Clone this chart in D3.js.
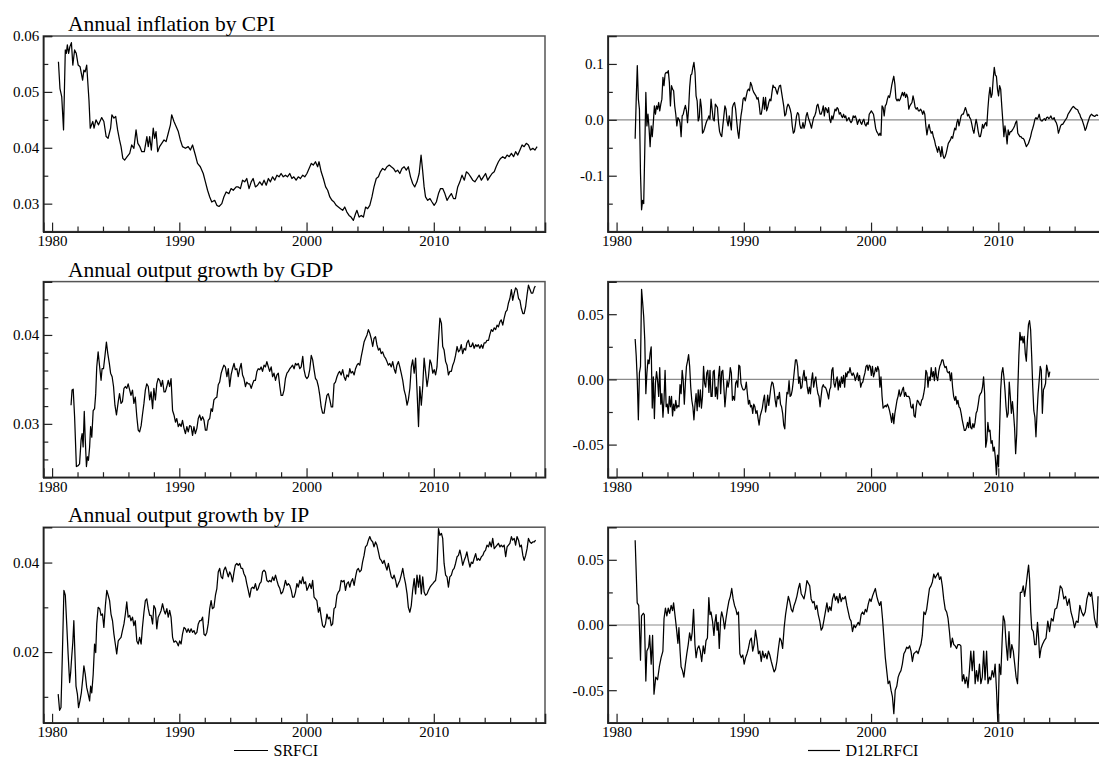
<!DOCTYPE html>
<html><head><meta charset="utf-8">
<script src="https://cdn.jsdelivr.net/npm/d3@7"></script>
<style>body{margin:0;background:#fff}svg{display:block}</style>
</head><body>
<svg id="chart" width="1099" height="760"></svg>
<script>
// ---------------- data ----------------
const titles = ["Annual inflation by CPI", "Annual output growth by GDP", "Annual output growth by IP"];
const legendLabels = ["SRFCI", "D12LRFCI"];
const xMajorYears = [1980, 1990, 2000, 2010];
const xDomain = [1979.31, 2018.74];

const cpiDomain = [0.025, 0.06], cpiMajor = [0.03, 0.04, 0.05, 0.06], cpiMinor = [0.035, 0.045, 0.055];
const gdpDomain = [0.024, 0.046], gdpMajor = [0.03, 0.04], gdpMinor = [0.026, 0.028, 0.032, 0.034, 0.036, 0.038, 0.042, 0.044];
const ipDomain = [0.0042, 0.0479], ipMajor = [0.02, 0.04], ipMinor = [0.01, 0.03];
const r1Domain = [-0.2, 0.15], r1Major = [-0.1, 0.0, 0.1], r1Minor = [-0.15, -0.05, 0.05];
const r2Domain = [-0.075, 0.075], r2Major = [-0.05, 0.0, 0.05], r2Minor = [-0.025, 0.025];
const r3Domain = [-0.075, 0.075], r3Major = [-0.05, 0.0, 0.05], r3Minor = [-0.025, 0.025];

// SRFCI, inflation by CPI  [year, value]
const cpiSrfci = [[1980.5,.0554],[1980.62,.0506],[1980.76,.0491],[1980.9,.0432],[1981.04,.0575],[1981.12,.0569],[1981.2,.0584],[1981.3,.0569],[1981.4,.0581],[1981.52,.0588],[1981.63,.0548],[1981.77,.0575],[1981.9,.0569],[1982.05,.0548],[1982.2,.0545],[1982.4,.0521],[1982.5,.0539],[1982.6,.0536],[1982.72,.0548],[1982.9,.0485],[1983.0,.0435],[1983.2,.0447],[1983.3,.0435],[1983.45,.045],[1983.65,.0441],[1983.9,.0454],[1984.07,.0447],[1984.25,.042],[1984.4,.0417],[1984.6,.0435],[1984.7,.0459],[1984.86,.0453],[1985.0,.0456],[1985.15,.0432],[1985.3,.0414],[1985.42,.0402],[1985.56,.0381],[1985.7,.0378],[1985.9,.0384],[1986.1,.039],[1986.26,.0405],[1986.43,.0399],[1986.6,.0432],[1986.74,.0408],[1986.9,.0402],[1987.05,.0393],[1987.25,.0393],[1987.45,.042],[1987.56,.0402],[1987.67,.042],[1987.8,.0396],[1987.95,.0435],[1988.06,.0417],[1988.17,.0429],[1988.3,.0393],[1988.45,.0402],[1988.62,.0408],[1988.8,.0414],[1988.96,.0411],[1989.13,.0426],[1989.3,.0441],[1989.4,.0459],[1989.58,.0447],[1989.75,.0438],[1989.92,.0429],[1990.08,.0414],[1990.25,.0402],[1990.48,.0399],[1990.7,.0402],[1990.87,.0396],[1991.04,.0405],[1991.26,.0387],[1991.43,.0372],[1991.65,.0366],[1991.88,.0354],[1992.05,.0339],[1992.22,.0324],[1992.39,.0312],[1992.55,.0303],[1992.78,.0306],[1992.95,.0297],[1993.12,.0295],[1993.34,.03],[1993.5,.0312],[1993.68,.0321],[1993.9,.0318],[1994.07,.0327],[1994.24,.0324],[1994.47,.033],[1994.63,.033],[1994.8,.0327],[1994.97,.0342],[1995.14,.0339],[1995.3,.0345],[1995.48,.0327],[1995.65,.0339],[1995.8,.0345],[1995.98,.033],[1996.15,.0333],[1996.32,.0339],[1996.5,.0333],[1996.66,.0342],[1996.83,.0333],[1997.0,.0345],[1997.16,.0339],[1997.33,.0348],[1997.5,.0342],[1997.67,.0351],[1997.84,.0348],[1998.0,.0354],[1998.17,.0348],[1998.34,.0351],[1998.5,.0348],[1998.68,.0354],[1998.85,.0345],[1999.0,.0348],[1999.18,.0342],[1999.35,.0348],[1999.52,.0345],[1999.7,.0351],[1999.86,.0348],[2000.03,.0354],[2000.2,.0363],[2000.37,.0372],[2000.53,.0369],[2000.7,.0375],[2000.87,.0366],[2000.98,.0375],[2001.15,.0357],[2001.32,.0345],[2001.5,.033],[2001.66,.0324],[2001.83,.0312],[2002.0,.0306],[2002.16,.0303],[2002.33,.0297],[2002.5,.0294],[2002.67,.0291],[2002.84,.0288],[2003.0,.0294],[2003.17,.0285],[2003.34,.0279],[2003.5,.0276],[2003.68,.027],[2003.85,.0282],[2003.96,.0288],[2004.13,.0276],[2004.3,.0279],[2004.47,.0276],[2004.64,.0294],[2004.8,.0291],[2004.97,.0297],[2005.14,.0312],[2005.3,.033],[2005.48,.0345],[2005.65,.0348],[2005.8,.0357],[2005.98,.0363],[2006.15,.036],[2006.32,.0366],[2006.5,.0369],[2006.66,.0366],[2006.83,.0363],[2007.0,.0357],[2007.16,.036],[2007.33,.0354],[2007.5,.0363],[2007.67,.0366],[2007.84,.036],[2008.0,.0366],[2008.17,.0348],[2008.34,.0336],[2008.5,.033],[2008.68,.0339],[2008.85,.0354],[2009.0,.0387],[2009.12,.036],[2009.24,.033],[2009.35,.0312],[2009.52,.0306],[2009.7,.0309],[2009.86,.0303],[2010.03,.0297],[2010.2,.0303],[2010.37,.0318],[2010.53,.0327],[2010.7,.0327],[2010.87,.0318],[2011.04,.0306],[2011.2,.0312],[2011.38,.0318],[2011.55,.0309],[2011.7,.0309],[2011.88,.033],[2012.05,.0339],[2012.22,.0351],[2012.4,.0342],[2012.56,.0357],[2012.72,.0354],[2012.9,.0348],[2013.06,.0342],[2013.23,.0339],[2013.4,.0345],[2013.57,.0351],[2013.74,.0342],[2013.9,.0348],[2014.07,.0354],[2014.24,.0342],[2014.4,.0348],[2014.58,.0354],[2014.75,.0357],[2014.9,.0366],[2015.08,.0375],[2015.25,.0381],[2015.42,.0384],[2015.6,.0381],[2015.76,.0387],[2015.93,.0384],[2016.1,.039],[2016.27,.0384],[2016.43,.0393],[2016.6,.0387],[2016.77,.0396],[2016.94,.0405],[2017.1,.0402],[2017.27,.0408],[2017.44,.0405],[2017.6,.0396],[2017.78,.0399],[2017.95,.0396],[2018.12,.0402]];

// SRFCI, output growth by GDP
const gdpSrfci = [[1981.49,.0321],[1981.57,.0338],[1981.66,.0339],[1981.77,.0308],[1981.91,.0252],[1982.05,.0253],[1982.16,.0255],[1982.28,.0282],[1982.36,.0289],[1982.44,.0274],[1982.53,.0314],[1982.6,.0285],[1982.7,.0252],[1982.78,.0263],[1982.86,.0259],[1982.95,.0274],[1983.03,.0297],[1983.12,.0285],[1983.23,.0315],[1983.34,.0317],[1983.43,.0334],[1983.51,.0364],[1983.62,.0381],[1983.74,.0364],[1983.85,.0349],[1983.93,.0362],[1984.04,.0362],[1984.16,.0377],[1984.27,.0392],[1984.38,.0379],[1984.5,.0368],[1984.6,.0357],[1984.72,.0353],[1984.83,.0342],[1984.94,.0321],[1985.06,.031],[1985.2,.0325],[1985.3,.0334],[1985.42,.0323],[1985.53,.0325],[1985.65,.034],[1985.76,.0342],[1985.87,.034],[1985.98,.0345],[1986.1,.0338],[1986.2,.0332],[1986.32,.0338],[1986.43,.0323],[1986.54,.033],[1986.66,.0308],[1986.77,.0293],[1986.88,.0291],[1987.0,.0298],[1987.1,.031],[1987.22,.0323],[1987.33,.0338],[1987.44,.0345],[1987.56,.0342],[1987.67,.0327],[1987.78,.0336],[1987.9,.0317],[1988.0,.034],[1988.12,.0327],[1988.23,.0345],[1988.34,.0351],[1988.46,.0349],[1988.57,.0342],[1988.68,.0349],[1988.8,.0336],[1988.9,.0336],[1989.02,.0342],[1989.13,.0349],[1989.24,.0342],[1989.35,.0351],[1989.47,.0315],[1989.58,.031],[1989.7,.0302],[1989.8,.0306],[1989.92,.0297],[1990.03,.03],[1990.14,.0297],[1990.25,.0304],[1990.37,.0295],[1990.48,.0289],[1990.59,.0297],[1990.7,.0291],[1990.81,.0298],[1990.93,.0297],[1991.04,.0287],[1991.15,.0297],[1991.26,.0289],[1991.38,.0295],[1991.49,.0306],[1991.6,.031],[1991.71,.0304],[1991.83,.0308],[1991.94,.0304],[1992.05,.0293],[1992.16,.0293],[1992.27,.0304],[1992.39,.0306],[1992.5,.0317],[1992.6,.0314],[1992.72,.0327],[1992.84,.0329],[1992.95,.033],[1993.06,.0344],[1993.17,.0347],[1993.29,.0357],[1993.4,.0362],[1993.5,.0366],[1993.62,.0364],[1993.74,.0353],[1993.85,.0362],[1993.96,.0342],[1994.07,.0355],[1994.18,.0362],[1994.3,.0368],[1994.4,.0361],[1994.52,.0362],[1994.63,.0353],[1994.75,.0362],[1994.86,.0368],[1994.97,.0355],[1995.08,.0351],[1995.2,.0342],[1995.3,.0347],[1995.42,.0345],[1995.53,.0345],[1995.65,.034],[1995.76,.0345],[1995.87,.0349],[1995.98,.0349],[1996.1,.0359],[1996.2,.0362],[1996.32,.0361],[1996.43,.0364],[1996.54,.0359],[1996.66,.0366],[1996.77,.0364],[1996.88,.037],[1997.0,.0364],[1997.1,.0359],[1997.22,.0364],[1997.33,.0353],[1997.44,.0357],[1997.56,.0349],[1997.67,.0355],[1997.78,.0357],[1997.9,.0342],[1998.0,.0332],[1998.12,.0332],[1998.23,.0338],[1998.34,.0351],[1998.46,.0357],[1998.57,.0359],[1998.68,.0362],[1998.8,.0364],[1998.9,.0366],[1999.02,.0362],[1999.13,.0368],[1999.24,.0366],[1999.35,.0368],[1999.47,.0362],[1999.58,.0364],[1999.7,.0376],[1999.8,.0361],[1999.92,.0353],[2000.03,.0351],[2000.14,.0353],[2000.25,.0361],[2000.37,.0377],[2000.48,.0372],[2000.59,.0361],[2000.7,.0351],[2000.81,.0349],[2000.93,.0342],[2001.04,.0332],[2001.15,.0319],[2001.26,.0312],[2001.38,.0312],[2001.49,.0323],[2001.6,.0332],[2001.71,.0334],[2001.83,.0327],[2001.94,.0319],[2002.05,.0319],[2002.16,.0345],[2002.27,.0347],[2002.39,.0353],[2002.5,.0357],[2002.6,.0359],[2002.72,.0355],[2002.84,.0361],[2002.95,.0353],[2003.06,.0349],[2003.17,.0355],[2003.29,.0353],[2003.4,.0362],[2003.5,.0357],[2003.62,.0359],[2003.74,.0355],[2003.85,.0362],[2003.96,.0366],[2004.07,.0368],[2004.18,.0366],[2004.3,.0376],[2004.4,.0383],[2004.52,.0392],[2004.63,.0396],[2004.75,.04],[2004.86,.0406],[2004.97,.0402],[2005.08,.0396],[2005.2,.0387],[2005.3,.0396],[2005.42,.0398],[2005.53,.0389],[2005.65,.0383],[2005.76,.0385],[2005.87,.0379],[2005.98,.0381],[2006.1,.0376],[2006.2,.0374],[2006.32,.037],[2006.43,.0366],[2006.54,.0368],[2006.66,.0364],[2006.77,.037],[2006.88,.0362],[2007.0,.0357],[2007.1,.0366],[2007.22,.037],[2007.33,.0364],[2007.44,.0357],[2007.56,.0349],[2007.67,.0338],[2007.78,.0332],[2007.9,.0321],[2008.0,.0327],[2008.12,.034],[2008.23,.0364],[2008.34,.0372],[2008.46,.0357],[2008.57,.0374],[2008.68,.0338],[2008.8,.0297],[2008.9,.0342],[2009.02,.0321],[2009.13,.0342],[2009.24,.0374],[2009.35,.0359],[2009.47,.0342],[2009.58,.0353],[2009.7,.0372],[2009.8,.0368],[2009.92,.0357],[2010.03,.0361],[2010.14,.0355],[2010.25,.0364],[2010.37,.0394],[2010.48,.0419],[2010.6,.0413],[2010.7,.0387],[2010.81,.0383],[2010.93,.037],[2011.04,.0366],[2011.15,.0355],[2011.26,.0359],[2011.38,.0359],[2011.49,.0366],[2011.6,.037],[2011.71,.0377],[2011.83,.0387],[2011.94,.0381],[2012.05,.0383],[2012.16,.0389],[2012.27,.0379],[2012.39,.0385],[2012.5,.0383],[2012.6,.0391],[2012.72,.0394],[2012.84,.0387],[2012.95,.0387],[2013.06,.0391],[2013.17,.0385],[2013.29,.0389],[2013.4,.0387],[2013.5,.0389],[2013.62,.0385],[2013.74,.0389],[2013.85,.0385],[2013.96,.0391],[2014.07,.0391],[2014.18,.0394],[2014.3,.0394],[2014.4,.04],[2014.52,.0406],[2014.63,.0404],[2014.75,.0408],[2014.86,.0406],[2014.97,.0411],[2015.08,.0409],[2015.2,.0415],[2015.3,.0417],[2015.42,.0411],[2015.53,.0419],[2015.65,.0426],[2015.76,.0428],[2015.87,.0436],[2015.98,.0441],[2016.1,.0451],[2016.2,.0439],[2016.32,.0447],[2016.43,.0453],[2016.54,.0451],[2016.66,.0441],[2016.77,.0439],[2016.88,.043],[2017.0,.0424],[2017.1,.0424],[2017.22,.0432],[2017.33,.0445],[2017.44,.0456],[2017.56,.0451],[2017.67,.0447],[2017.78,.0447],[2017.9,.0453],[2017.98,.0455]];

// SRFCI, output growth by IP
const ipSrfci = [[1980.48,.0106],[1980.59,.007],[1980.7,.0076],[1980.81,.0196],[1980.93,.0338],[1981.04,.0327],[1981.15,.0263],[1981.26,.0196],[1981.38,.0132],[1981.46,.0154],[1981.54,.0188],[1981.63,.0222],[1981.71,.027],[1981.8,.0192],[1981.88,.0124],[1981.99,.0106],[1982.08,.0076],[1982.19,.0091],[1982.3,.0109],[1982.42,.0143],[1982.5,.0169],[1982.61,.015],[1982.72,.0121],[1982.84,.0106],[1982.95,.0091],[1983.03,.0124],[1983.12,.0109],[1983.23,.015],[1983.34,.0218],[1983.43,.0199],[1983.51,.0263],[1983.62,.03],[1983.74,.0297],[1983.85,.0282],[1983.96,.0285],[1984.07,.0255],[1984.19,.0304],[1984.3,.0338],[1984.41,.0327],[1984.52,.0315],[1984.63,.0285],[1984.75,.027],[1984.86,.024],[1984.97,.0218],[1985.08,.0196],[1985.2,.0225],[1985.3,.0229],[1985.42,.0233],[1985.53,.0248],[1985.65,.0263],[1985.76,.0285],[1985.87,.0312],[1985.98,.0278],[1986.1,.0282],[1986.2,.027],[1986.32,.0278],[1986.43,.0259],[1986.54,.027],[1986.66,.0225],[1986.77,.0218],[1986.88,.0233],[1987.0,.0218],[1987.1,.0255],[1987.22,.0289],[1987.33,.0315],[1987.44,.0319],[1987.56,.0297],[1987.67,.0282],[1987.78,.0282],[1987.9,.0263],[1988.0,.0304],[1988.12,.0297],[1988.23,.0252],[1988.34,.0278],[1988.46,.0285],[1988.57,.0293],[1988.68,.0308],[1988.8,.0293],[1988.9,.0285],[1989.02,.0297],[1989.13,.0278],[1989.24,.0293],[1989.35,.0278],[1989.47,.0233],[1989.58,.0222],[1989.7,.0225],[1989.8,.0222],[1989.92,.0214],[1990.03,.0225],[1990.14,.0218],[1990.25,.024],[1990.37,.0255],[1990.48,.0252],[1990.59,.0244],[1990.7,.0252],[1990.81,.0244],[1990.93,.0252],[1991.04,.0244],[1991.15,.0248],[1991.26,.024],[1991.38,.0244],[1991.49,.0263],[1991.6,.027],[1991.71,.027],[1991.83,.0278],[1991.94,.024],[1992.05,.0237],[1992.16,.0244],[1992.27,.0263],[1992.39,.0297],[1992.5,.0315],[1992.6,.0297],[1992.72,.03],[1992.84,.0327],[1992.95,.0342],[1993.06,.0379],[1993.17,.0387],[1993.29,.0368],[1993.4,.0364],[1993.5,.0383],[1993.62,.039],[1993.74,.0379],[1993.85,.0368],[1993.96,.0379],[1994.07,.0372],[1994.18,.0357],[1994.3,.0379],[1994.4,.0394],[1994.52,.0398],[1994.63,.0394],[1994.75,.0398],[1994.86,.0387],[1994.97,.0387],[1995.08,.0375],[1995.2,.0368],[1995.3,.0353],[1995.42,.0338],[1995.53,.0323],[1995.65,.0342],[1995.76,.0345],[1995.87,.0342],[1995.98,.0353],[1996.1,.0338],[1996.2,.0342],[1996.32,.0353],[1996.43,.0357],[1996.54,.0379],[1996.66,.0383],[1996.77,.0379],[1996.88,.036],[1997.0,.0357],[1997.1,.036],[1997.22,.0357],[1997.33,.0368],[1997.44,.036],[1997.56,.0372],[1997.67,.036],[1997.78,.0349],[1997.9,.0342],[1998.0,.033],[1998.12,.0334],[1998.23,.0345],[1998.34,.036],[1998.46,.0349],[1998.57,.0353],[1998.68,.0349],[1998.8,.0338],[1998.9,.0323],[1999.02,.0323],[1999.13,.0334],[1999.24,.0353],[1999.35,.0345],[1999.47,.036],[1999.58,.0353],[1999.7,.0368],[1999.8,.0353],[1999.92,.0357],[2000.03,.0338],[2000.14,.0345],[2000.25,.0353],[2000.37,.0342],[2000.48,.036],[2000.59,.0323],[2000.7,.0319],[2000.81,.0315],[2000.93,.0289],[2001.04,.03],[2001.15,.0278],[2001.26,.0259],[2001.38,.0255],[2001.49,.0263],[2001.6,.0285],[2001.71,.0274],[2001.83,.0278],[2001.94,.0259],[2002.05,.0263],[2002.16,.0297],[2002.27,.03],[2002.39,.0327],[2002.5,.0334],[2002.6,.0338],[2002.72,.036],[2002.84,.0357],[2002.95,.036],[2003.06,.0338],[2003.17,.0353],[2003.29,.0357],[2003.4,.0345],[2003.5,.0357],[2003.62,.0364],[2003.74,.0349],[2003.85,.0368],[2003.96,.0383],[2004.07,.0387],[2004.18,.0379],[2004.3,.0383],[2004.4,.0401],[2004.52,.0416],[2004.63,.0435],[2004.75,.0439],[2004.86,.045],[2004.97,.0458],[2005.08,.045],[2005.2,.0446],[2005.3,.0435],[2005.42,.0446],[2005.53,.0439],[2005.65,.0424],[2005.76,.0409],[2005.87,.0405],[2005.98,.0398],[2006.1,.0405],[2006.2,.0394],[2006.32,.0383],[2006.43,.0398],[2006.54,.0383],[2006.66,.0368],[2006.77,.0364],[2006.88,.0372],[2007.0,.036],[2007.1,.0345],[2007.22,.0353],[2007.33,.036],[2007.44,.0372],[2007.56,.0387],[2007.67,.0368],[2007.78,.0353],[2007.9,.033],[2008.0,.03],[2008.12,.0289],[2008.23,.0304],[2008.34,.0338],[2008.46,.0364],[2008.57,.033],[2008.68,.0372],[2008.8,.0345],[2008.9,.0372],[2009.02,.033],[2009.13,.0368],[2009.24,.0334],[2009.35,.0327],[2009.47,.033],[2009.58,.0338],[2009.7,.0345],[2009.8,.0349],[2009.92,.0353],[2010.03,.0357],[2010.14,.036],[2010.25,.0383],[2010.37,.0476],[2010.48,.0461],[2010.6,.0465],[2010.7,.0454],[2010.81,.0398],[2010.93,.0372],[2011.04,.0368],[2011.15,.0345],[2011.26,.0368],[2011.38,.0372],[2011.49,.0383],[2011.6,.0387],[2011.71,.0398],[2011.83,.0413],[2011.94,.0416],[2012.05,.0428],[2012.16,.0413],[2012.27,.0394],[2012.39,.0405],[2012.5,.0413],[2012.6,.0424],[2012.72,.0405],[2012.84,.039],[2012.95,.0401],[2013.06,.0398],[2013.17,.0409],[2013.29,.042],[2013.4,.0405],[2013.5,.0409],[2013.62,.0405],[2013.74,.0413],[2013.85,.0416],[2013.96,.0424],[2014.07,.0428],[2014.18,.0439],[2014.3,.0435],[2014.4,.0446],[2014.52,.0435],[2014.63,.0454],[2014.75,.0431],[2014.86,.0435],[2014.97,.0439],[2015.08,.0443],[2015.2,.0435],[2015.3,.0439],[2015.42,.0435],[2015.53,.0439],[2015.65,.0413],[2015.76,.0435],[2015.87,.0439],[2015.98,.0443],[2016.1,.0458],[2016.2,.045],[2016.32,.0454],[2016.43,.0439],[2016.54,.0458],[2016.66,.045],[2016.77,.0435],[2016.88,.0439],[2017.0,.0416],[2017.1,.0405],[2017.22,.0416],[2017.33,.0431],[2017.44,.0454],[2017.56,.0446],[2017.67,.0443],[2017.78,.0446],[2017.9,.0446],[2018.0,.045]];

// D12LRFCI, inflation by CPI: monthly observations from 1981.46
const cpiD12Start = 1981.46, cpiD12Step = 0.084;
const cpiD12 = [-.034,.037,.097,.037,.019,-.096,-.161,-.144,-.15,-.054,.049,-.011,.010,-.015,-.048,-.011,-.030,-.005,.025,.010,.025,.019,.031,.016,.028,.037,.076,.061,.082,.085,.084,.088,.067,.025,.061,.055,.052,.025,.010,-.011,.004,.001,-.005,-.030,.007,.010,.019,.026,.016,-.005,.019,.058,.080,.082,.094,.103,.085,.043,.034,-.002,.004,.037,.022,-.024,-.021,-.015,-.008,-.002,.001,.007,.001,.037,.019,.001,-.002,.028,.025,.022,-.005,-.021,-.027,-.030,-.011,.007,.025,.019,-.002,-.011,.007,-.005,-.018,.022,.028,.031,.019,-.002,-.021,-.033,-.011,.007,.019,.037,.040,.034,.043,.052,.055,.052,.067,.062,.054,.049,.046,.043,.037,.040,.028,.010,.010,.022,.040,.019,.040,.016,.022,.031,.037,.034,.049,.062,.058,.058,.052,.046,.055,.061,.062,.049,.037,.025,.007,.010,.022,.028,.025,.019,.010,-.011,-.024,-.021,-.008,.007,.013,.010,-.008,-.015,-.015,-.005,-.015,-.008,.007,.013,.004,-.002,-.008,-.015,-.005,.004,.007,.013,.025,.028,.019,.010,.010,.016,.025,.007,.022,.019,.013,.022,.001,-.005,.007,.001,.010,.019,.016,.022,.019,.010,.013,.007,.004,.010,.004,.007,-.002,.001,.004,-.002,-.005,-.002,.007,.004,.007,.001,-.008,-.002,.001,-.005,-.008,-.002,.001,-.008,-.011,-.005,-.008,.010,.013,.016,.013,.010,-.002,-.015,-.021,-.024,-.028,-.024,-.028,.025,.022,.007,.025,.028,.037,.043,.040,.049,.061,.070,.078,.064,.038,.034,.037,.034,.037,.043,.049,.043,.049,.040,.046,.040,.019,.025,.028,.031,.043,.034,.022,.019,.022,.016,.016,.019,.016,.010,.016,.010,-.011,-.027,-.015,-.008,-.018,-.024,-.021,-.030,-.036,-.045,-.051,-.058,-.048,-.055,-.066,-.048,-.063,-.069,-.066,-.060,-.051,-.042,-.039,-.036,-.030,-.033,-.024,-.015,-.018,-.005,.001,-.011,-.002,.007,.010,.010,.016,.022,.016,.007,.010,.004,.001,-.008,-.018,-.024,-.011,.001,-.008,-.021,-.030,-.030,-.021,-.008,-.015,-.008,-.005,-.011,.019,.043,.058,.040,.046,.073,.094,.080,.078,.055,.043,.061,.055,.025,-.002,-.030,-.011,-.024,-.043,-.018,-.027,-.021,-.021,-.018,-.015,-.011,-.005,-.002,-.024,-.027,-.030,-.030,-.033,-.033,-.036,-.042,-.048,-.045,-.042,-.036,-.030,-.021,-.015,-.008,.001,.004,.001,.004,.010,.001,-.002,-.002,.001,.002,-.001,.004,.005,.002,.004,.007,.002,.001,.004,-.002,-.005,-.011,-.024,-.018,-.011,-.008,-.008,-.005,-.002,.001,.004,.010,.013,.016,.019,.022,.024,.022,.020,.019,.018,.013,.010,.004,.001,-.005,-.011,-.019,-.015,-.008,-.002,.004,.008,.010,.008,.007,.006,.008,.009,.007];

// D12LRFCI, output growth by GDP: monthly observations from 1981.46
const gdpD12Start = 1981.46, gdpD12Step = 0.084;
const gdpD12 = [.031,.018,-.001,-.031,.005,.010,.069,.059,.048,.030,-.011,.005,.015,.012,.020,.025,-.022,.002,-.030,-.003,.006,-.001,-.013,.009,-.019,-.011,-.029,-.016,.007,-.021,-.019,-.026,-.013,-.021,-.013,-.028,-.019,-.024,-.016,-.022,-.020,-.021,-.004,-.011,.007,-.001,-.019,-.003,.010,.014,.019,.010,-.006,-.016,-.021,-.031,-.019,-.011,-.024,-.008,-.021,-.008,-.022,-.013,.010,-.003,-.006,.005,.007,-.010,.007,-.013,-.013,.006,.007,-.013,-.006,-.015,.002,.010,-.011,.006,.007,-.006,-.021,-.011,-.001,-.006,-.001,.009,.005,-.016,-.013,-.016,-.003,-.001,-.006,.011,.010,-.003,-.006,-.008,-.008,-.007,-.002,-.011,-.019,-.016,-.021,-.020,-.026,-.019,-.021,-.026,-.024,-.030,-.035,-.028,-.025,-.022,-.016,-.012,-.025,-.020,-.012,-.020,-.013,-.006,-.002,-.003,-.008,-.016,-.021,-.013,-.015,-.010,-.019,-.021,-.026,-.035,-.038,-.021,-.010,-.011,-.001,-.013,-.012,-.008,-.001,.007,.015,.015,.010,-.003,.002,-.007,-.006,.002,.007,-.001,.002,-.006,-.011,-.006,-.011,-.001,.005,-.006,-.001,.002,-.006,-.011,-.013,-.021,-.013,-.006,-.004,-.006,-.006,-.008,-.011,-.015,-.008,-.006,.007,.009,-.003,-.006,-.001,.002,-.008,-.001,-.006,.002,-.003,.003,-.006,.005,.002,.006,.005,.009,.005,.003,.005,.003,-.001,.002,.005,-.001,.003,-.006,-.003,-.002,.002,.005,.010,.011,.007,.011,.010,.003,.010,.002,.005,.009,.006,.010,.007,-.006,.002,-.013,-.022,-.021,-.020,-.021,-.019,-.021,-.024,-.028,-.033,-.026,-.034,-.026,-.021,-.016,-.013,-.008,-.013,-.011,-.008,-.006,-.013,-.010,-.013,-.013,-.013,-.015,-.021,-.022,-.019,-.028,-.029,-.021,-.016,-.017,-.019,-.020,-.016,-.015,-.011,-.006,.007,.005,-.006,.002,-.001,.009,.002,.006,-.001,.009,.002,-.001,.006,.010,.012,.015,.015,.011,.009,.010,.006,.005,.006,-.001,.005,-.006,-.013,-.016,-.013,-.019,-.016,-.021,-.022,-.026,-.031,-.035,-.039,-.039,-.037,-.033,-.037,-.029,-.037,-.038,-.034,-.037,-.033,-.026,-.024,-.019,-.013,-.011,-.010,-.006,.002,-.011,-.052,-.047,-.033,-.040,-.039,-.049,-.047,-.055,-.052,-.060,-.073,-.058,-.067,-.037,-.008,.005,.009,.002,-.008,-.021,-.029,-.026,-.002,-.013,-.026,-.017,-.026,-.037,-.057,-.042,-.008,.018,.036,.030,.033,.028,.033,.020,.014,.030,.042,.045,.038,.018,-.006,-.024,-.029,-.044,-.026,-.011,-.001,.010,.007,-.026,-.008,-.006,-.003,.011,.007,.002,.006];

// D12LRFCI, output growth by IP  [year, value]
const ipD12 = [[1981.46,.065],[1981.62,.017],[1981.74,.015],[1981.88,-.027],[1981.96,.007],[1982.1,.009],[1982.18,.008],[1982.3,-.043],[1982.38,-.02],[1982.52,-.017],[1982.6,-.008],[1982.72,-.03],[1982.83,-.008],[1982.94,-.053],[1983.08,-.04],[1983.22,-.042],[1983.36,-.032],[1983.5,-.025],[1983.64,-.02],[1983.73,.005],[1983.84,.013],[1983.95,.007],[1984.06,.013],[1984.17,.009],[1984.29,.015],[1984.4,.011],[1984.48,.017],[1984.62,.005],[1984.71,-.003],[1984.82,-.014],[1984.9,-.002],[1984.99,-.02],[1985.07,-.032],[1985.18,-.035],[1985.29,-.04],[1985.41,-.03],[1985.52,-.022],[1985.63,-.015],[1985.74,-.006],[1985.85,-.012],[1985.94,-.006],[1986.05,.012],[1986.16,-.015],[1986.25,-.025],[1986.36,-.018],[1986.47,-.016],[1986.58,-.02],[1986.69,-.028],[1986.81,-.016],[1986.92,-.022],[1987.03,-.012],[1987.14,-.01],[1987.25,.021],[1987.34,.008],[1987.42,.01],[1987.54,.003],[1987.65,-.008],[1987.73,.002],[1987.82,.008],[1987.9,-.004],[1987.98,.002],[1988.07,-.018],[1988.18,.005],[1988.26,.01],[1988.38,.005],[1988.49,-.003],[1988.6,.005],[1988.71,.012],[1988.82,.018],[1988.94,.022],[1989.05,.028],[1989.16,.02],[1989.27,.015],[1989.38,.012],[1989.47,.008],[1989.58,.01],[1989.69,-.022],[1989.8,-.025],[1989.92,-.023],[1990.03,-.03],[1990.14,-.025],[1990.25,-.022],[1990.36,-.018],[1990.48,-.012],[1990.59,-.01],[1990.7,-.02],[1990.81,-.015],[1990.92,-.004],[1991.04,-.012],[1991.15,-.022],[1991.26,-.02],[1991.37,-.028],[1991.48,-.02],[1991.6,-.025],[1991.71,-.022],[1991.82,-.026],[1991.93,-.02],[1992.04,-.023],[1992.16,-.028],[1992.27,-.032],[1992.38,-.036],[1992.49,-.034],[1992.6,-.028],[1992.72,-.018],[1992.83,-.01],[1992.94,-.012],[1993.05,-.018],[1993.17,-.002],[1993.28,.008],[1993.39,.015],[1993.5,.022],[1993.61,.018],[1993.73,.012],[1993.84,.01],[1993.95,.015],[1994.06,.018],[1994.17,.022],[1994.29,.028],[1994.4,.032],[1994.51,.024],[1994.62,.022],[1994.73,.02],[1994.85,.026],[1994.96,.034],[1995.07,.032],[1995.18,.03],[1995.29,.02],[1995.41,.017],[1995.52,.018],[1995.63,.012],[1995.74,.015],[1995.85,.008],[1995.97,.003],[1996.08,-.004],[1996.19,-.002],[1996.3,.004],[1996.41,.01],[1996.53,.017],[1996.64,.01],[1996.75,.014],[1996.86,.011],[1996.97,.02],[1997.09,.024],[1997.2,.019],[1997.31,.022],[1997.42,.017],[1997.54,.024],[1997.65,.018],[1997.76,.021],[1997.87,.02],[1997.98,.022],[1998.1,.015],[1998.21,.01],[1998.32,.005],[1998.43,.003],[1998.54,-.005],[1998.66,0],[1998.77,-.002],[1998.88,0],[1998.99,.002],[1999.1,0],[1999.22,.008],[1999.33,.01],[1999.44,.008],[1999.55,.012],[1999.66,.01],[1999.78,.016],[1999.89,.02],[2000.0,.018],[2000.11,.022],[2000.22,.025],[2000.34,.028],[2000.45,.022],[2000.56,.018],[2000.67,.015],[2000.78,.018],[2000.9,.005],[2001.01,-.01],[2001.12,-.025],[2001.23,-.035],[2001.34,-.045],[2001.46,-.043],[2001.57,-.05],[2001.68,-.055],[2001.79,-.068],[2001.9,-.05],[2002.02,-.047],[2002.13,-.04],[2002.24,-.037],[2002.35,-.035],[2002.46,-.03],[2002.58,-.022],[2002.69,-.02],[2002.8,-.017],[2002.91,-.018],[2003.03,-.016],[2003.14,-.02],[2003.25,-.028],[2003.36,-.022],[2003.47,-.021],[2003.59,-.02],[2003.7,-.022],[2003.81,-.018],[2003.92,-.015],[2004.03,-.008],[2004.15,.01],[2004.26,.008],[2004.37,.012],[2004.48,.02],[2004.59,.028],[2004.71,.03],[2004.82,.033],[2004.93,.039],[2005.04,.036],[2005.15,.038],[2005.27,.04],[2005.38,.035],[2005.49,.037],[2005.6,.03],[2005.71,.02],[2005.83,.012],[2005.94,.01],[2006.05,.005],[2006.16,-.005],[2006.27,-.017],[2006.39,-.01],[2006.5,-.015],[2006.61,-.016],[2006.72,-.018],[2006.83,-.015],[2006.95,-.015],[2007.06,-.016],[2007.17,-.043],[2007.28,-.038],[2007.39,-.045],[2007.51,-.04],[2007.62,-.048],[2007.73,-.035],[2007.84,-.02],[2007.95,-.035],[2008.07,-.02],[2008.18,-.045],[2008.29,-.035],[2008.4,-.043],[2008.52,-.03],[2008.63,-.045],[2008.74,-.04],[2008.85,-.02],[2008.96,-.042],[2009.08,-.02],[2009.19,-.045],[2009.3,-.04],[2009.41,-.042],[2009.52,-.035],[2009.64,-.04],[2009.75,-.03],[2009.86,-.05],[2009.97,-.076],[2010.08,-.03],[2010.2,-.038],[2010.31,-.01],[2010.39,.007],[2010.5,.003],[2010.62,-.015],[2010.73,-.027],[2010.84,-.005],[2010.95,-.025],[2011.06,-.015],[2011.18,-.02],[2011.29,-.03],[2011.4,-.04],[2011.51,-.045],[2011.62,-.02],[2011.73,.025],[2011.85,.025],[2011.96,.03],[2012.07,.022],[2012.18,.03],[2012.3,.04],[2012.38,.046],[2012.46,.035],[2012.55,.01],[2012.63,-.003],[2012.75,-.005],[2012.86,-.015],[2012.97,-.015],[2013.08,.002],[2013.17,-.01],[2013.25,-.025],[2013.36,-.018],[2013.47,-.015],[2013.61,-.012],[2013.75,-.01],[2013.89,.003],[2014.03,-.005],[2014.17,.005],[2014.31,.003],[2014.45,.012],[2014.59,.013],[2014.73,.02],[2014.87,.03],[2015.01,.028],[2015.15,.02],[2015.29,.022],[2015.43,.015],[2015.57,.02],[2015.71,.01],[2015.85,.005],[2015.99,-.002],[2016.13,.003],[2016.27,.002],[2016.41,.015],[2016.55,.01],[2016.69,.007],[2016.83,.01],[2016.97,.02],[2017.11,.025],[2017.24,.022],[2017.33,.025],[2017.45,.015],[2017.56,.005],[2017.68,0],[2017.75,-.002],[2017.84,.022]];

// ---------------- drawing ----------------
const FONT = "'Liberation Serif','Times New Roman',Times,serif";
const svg = d3.select("#chart");
svg.append("rect").attr("width", 1099).attr("height", 760).attr("fill", "#fff");

const colX = [[43.3, 545], [607.8, 1109.5]];
const rowY = [[36, 231.6], [281.6, 477.2], [527.2, 722.8]];

const monthly = (start, step, vals) => vals.map((v, i) => [start + i * step, v]);

const panels = [
  {col: 0, row: 0, data: cpiSrfci, dom: cpiDomain, major: cpiMajor, minor: cpiMinor, dec: 2, title: titles[0]},
  {col: 1, row: 0, data: monthly(cpiD12Start, cpiD12Step, cpiD12), dom: r1Domain, major: r1Major, minor: r1Minor, dec: 1, zero: true},
  {col: 0, row: 1, data: gdpSrfci, dom: gdpDomain, major: gdpMajor, minor: gdpMinor, dec: 2, title: titles[1]},
  {col: 1, row: 1, data: monthly(gdpD12Start, gdpD12Step, gdpD12), dom: r2Domain, major: r2Major, minor: r2Minor, dec: 2, zero: true},
  {col: 0, row: 2, data: ipSrfci, dom: ipDomain, major: ipMajor, minor: ipMinor, dec: 2, title: titles[2]},
  {col: 1, row: 2, data: ipD12, dom: r3Domain, major: r3Major, minor: r3Minor, dec: 2, zero: true}
];

const xMinorYears = d3.range(1980, 2020, 2).filter(v => !xMajorYears.includes(v));

panels.forEach((p, i) => {
  const [x0, x1] = colX[p.col], [y0, y1] = rowY[p.row];
  const x = d3.scaleLinear().domain(xDomain).range([x0, x1]);
  const y = d3.scaleLinear().domain(p.dom).range([y1, y0]);
  const g = svg.append("g");

  g.append("clipPath").attr("id", "clip" + i).append("rect")
    .attr("x", x0).attr("y", y0).attr("width", x1 - x0).attr("height", y1 - y0);

  if (p.zero) {
    g.append("line").attr("x1", x0).attr("x2", x1).attr("y1", y(0)).attr("y2", y(0))
      .attr("stroke", "#8a8a8a").attr("stroke-width", 1.2);
  }

  g.append("path").datum(p.data)
    .attr("clip-path", `url(#clip${i})`)
    .attr("fill", "none").attr("stroke", "#000").attr("stroke-width", 1.25)
    .attr("stroke-linejoin", "round")
    .attr("d", d3.line().x(d => x(d[0])).y(d => y(d[1])));

  // frame
  g.append("rect").attr("x", x0).attr("y", y0).attr("width", x1 - x0).attr("height", y1 - y0)
    .attr("fill", "none").attr("stroke", "#555").attr("stroke-width", 1.5);

  // y axis major
  const ya = g.append("g").attr("transform", `translate(${x0},0)`)
    .call(d3.axisLeft(y).tickValues(p.major).tickSize(-9).tickPadding(4).tickFormat(v => v.toFixed(p.dec)));
  ya.attr("font-family", null).attr("font-size", null);
  ya.select(".domain").attr("stroke", "#222").attr("stroke-width", 1.6);
  ya.selectAll(".tick line").attr("stroke", "#222").attr("stroke-width", 1.2);
  ya.selectAll(".tick text").attr("fill", "#000").style("font-family", FONT).style("font-size", "15px");

  const ym = g.append("g").attr("transform", `translate(${x0},0)`)
    .call(d3.axisLeft(y).tickValues(p.minor).tickSize(-5).tickFormat(""));
  ym.select(".domain").remove();
  ym.selectAll(".tick line").attr("stroke", "#222").attr("stroke-width", 1.2);

  // x axis
  const xa = g.append("g").attr("transform", `translate(0,${y1})`)
    .call(d3.axisBottom(x).tickValues(xMajorYears).tickSize(-9).tickPadding(4).tickFormat(d3.format("d")));
  xa.attr("font-family", null).attr("font-size", null);
  xa.select(".domain").attr("stroke", "#222").attr("stroke-width", 1.6);
  xa.selectAll(".tick line").attr("stroke", "#222").attr("stroke-width", 1.2);
  xa.selectAll(".tick text").attr("fill", "#000").style("font-family", FONT).style("font-size", "15px");

  const xm = g.append("g").attr("transform", `translate(0,${y1})`)
    .call(d3.axisBottom(x).tickValues(xMinorYears).tickSize(-5).tickFormat(""));
  xm.select(".domain").remove();
  xm.selectAll(".tick line").attr("stroke", "#222").attr("stroke-width", 1.2);

  if (p.title) {
    g.append("text").attr("x", 68).attr("y", y0 - 5)
      .style("font-family", FONT).style("font-size", "21.5px").attr("fill", "#000").text(p.title);
  }
});

// legends
const legendPos = [[234, 268], [808, 840]];
legendLabels.forEach((lab, i) => {
  const [a, b] = legendPos[i];
  svg.append("line").attr("x1", a).attr("x2", b).attr("y1", 750.5).attr("y2", 750.5)
    .attr("stroke", "#000").attr("stroke-width", 1.2);
  svg.append("text").attr("x", b + 5.5).attr("y", 755.5)
    .style("font-family", FONT).style("font-size", "16px").attr("fill", "#000").text(lab);
});
</script>
</body></html>
